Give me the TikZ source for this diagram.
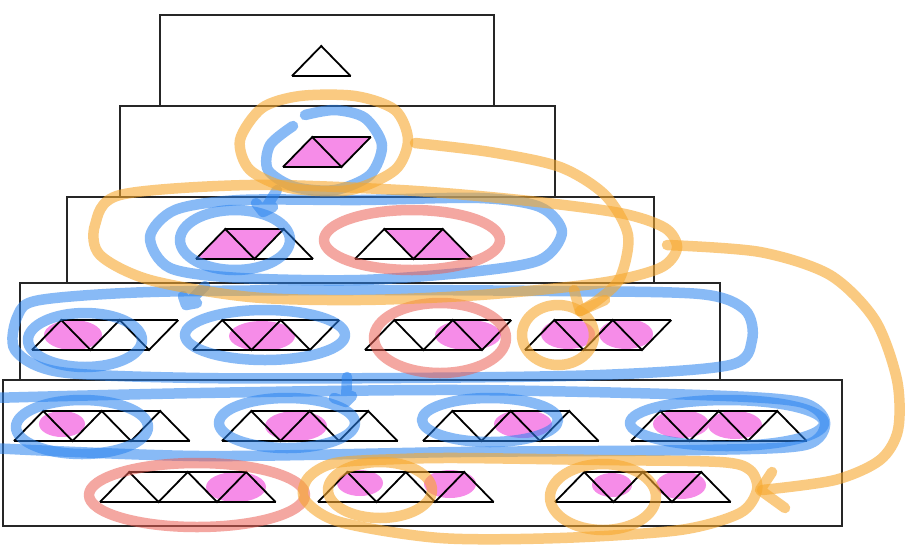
\documentclass[tikz,border=0pt]{standalone}
\usetikzlibrary{arrows.meta}
\definecolor{pinkfill}{RGB}{246,140,232}
\definecolor{hlorange}{RGB}{247,168,45}
\definecolor{hlblue}{RGB}{40,130,240}
\definecolor{hlred}{RGB}{235,95,85}
\tikzset{
  frame/.style={draw=black!85, line width=1.4pt},
  tri/.style={draw=black, line width=1.8pt, line join=miter},
  hl/.style={line width=10.5pt, line cap=round, line join=round},
  hlo/.style={hl, draw=hlorange, draw opacity=0.6},
  hlb/.style={hl, draw=hlblue, draw opacity=0.55},
  hlr/.style={hl, draw=hlred, draw opacity=0.55},
}
% strip of #3 alternating triangles (first pointing up), left base corner (#1,#2)
\newcommand\tstrip[3]{%
  \pgfmathtruncatemacro\tsLast{#3+1}%
  \pgfmathtruncatemacro\tsBot{2*floor((#3+1)/2)}%
  \pgfmathtruncatemacro\tsTop{2*floor(#3/2)+1}%
  \draw[tri] (#1,#2) \foreach \k in {1,...,\tsLast}{ -- ({#1+29.25*\k},{#2-30*mod(\k,2)}) };
  \draw[tri] (#1,#2) -- ({#1+29.25*\tsBot},#2);
  \draw[tri] ({#1+29.25},{#2-30}) -- ({#1+29.25*\tsTop},{#2-30});
}
% pink fill of triangle number #3 of a strip
\newcommand\pinktri[3]{%
  \fill[pinkfill] ({#1+29.25*(#3-1)},{#2-30*mod(#3-1,2)}) -- ({#1+29.25*#3},{#2-30*mod(#3,2)})
     -- ({#1+29.25*(#3+1)},{#2-30*mod(#3+1,2)}) -- cycle;
}
\newcommand\pinkblob[4]{\fill[pinkfill, rounded corners=6pt] (#1,#2) ellipse [x radius=#3, y radius=#4];}
\begin{document}
\begin{tikzpicture}[x=1pt,y=-1pt]
\useasboundingbox (0,0) rectangle (917,552);
\fill[white] (0,0) rectangle (917,552);
% ---------- pink fills ----------
\pinktri{283}{167}{1}\pinktri{283}{167}{2}
\pinktri{196}{259}{1}\pinktri{196}{259}{2}
\pinktri{355}{259}{2}\pinktri{355}{259}{3}
\pinkblob{73}{335}{29}{15}
\pinkblob{262}{336}{33}{15}
\pinkblob{468}{335}{33}{15}
\pinkblob{568}{334}{27}{15}\pinkblob{626}{334}{27}{15}
\pinkblob{62}{424}{23}{13}
\pinkblob{296}{426}{31}{15}
\pinkblob{523}{424}{29}{14}
\pinkblob{681}{424}{28}{14}\pinkblob{735}{425}{27}{14}
\pinkblob{236}{487}{30}{15}
\pinkblob{360}{483}{23}{13}\pinkblob{450}{484}{26}{14}
\pinkblob{612}{485}{20}{12}\pinkblob{681}{485}{25}{14}
% ---------- boxes ----------
\draw[frame] (160,15) rectangle (494,106);
\draw[frame] (120,106) rectangle (555,197);
\draw[frame] (67,197) rectangle (654,283);
\draw[frame] (20,283) rectangle (720,380);
\draw[frame] (3,380) rectangle (842,526);
% ---------- triangle strips ----------
\tstrip{292}{76}{1}
\tstrip{283}{167}{2}
\tstrip{196}{259}{3}
\tstrip{355}{259}{3}
\tstrip{32}{350}{4}
\tstrip{193}{350}{4}
\tstrip{365}{350}{4}
\tstrip{525}{350}{4}
\tstrip{14}{441}{5}
\tstrip{222}{441}{5}
\tstrip{423}{441}{5}
\tstrip{631}{441}{5}
\tstrip{100}{502}{5}
\tstrip{318}{502}{5}
\tstrip{555}{502}{5}
% ---------- blue loops ----------
\draw[hlb] plot[smooth] coordinates {(293,126) (270,145) (268,170) (295,187) (335,190) (370,175) (382,145) (365,118) (335,110) (305,115)};
\draw[hlb] (277,190) -- (263,212) (263,212) -- (256,203) (263,212) -- (273,207);
\draw[hlb] (235,240) ellipse [x radius=55, y radius=30];
\draw[hlb] plot[smooth cycle] coordinates {(150,237) (175,210) (240,200) (360,200) (480,198) (540,207) (562,232) (540,260) (470,272) (360,280) (240,278) (170,268)};
\draw[hlb] (205,286) -- (186,305) (186,305) -- (183,296) (186,305) -- (197,303);
\draw[hlb] plot[smooth cycle] coordinates {(40,300) (150,292) (350,290) (550,291) (700,294) (745,310) (752,340) (730,365) (600,375) (400,378) (200,378) (60,372) (15,350) (18,315)};
\draw[hlb] (85,340) ellipse [x radius=57, y radius=27];
\draw[hlb] (265,335) ellipse [x radius=80, y radius=25];
\draw[hlb] (347,377) -- (346,402) (346,402) -- (334,398) (346,402) -- (352,396);
\draw[hlb] plot[smooth] coordinates {(-10,448) (200,456) (460,452) (700,450) (805,445) (825,422) (800,402) (700,395) (460,390) (200,393) (-10,398)};
\draw[hlb] (82,427) ellipse [x radius=66, y radius=27];
\draw[hlb] (287,423) ellipse [x radius=68, y radius=25];
\draw[hlb] (490,420) ellipse [x radius=68, y radius=22];
\draw[hlb] (727,423) ellipse [x radius=97, y radius=23];
% ---------- red loops ----------
\draw[hlr] (412,240) ellipse [x radius=88, y radius=30];
\draw[hlr] (440,338) ellipse [x radius=66, y radius=35];
\draw[hlr] (197,495) ellipse [x radius=108, y radius=32];
% ---------- orange loops ----------
\draw[hlo] plot[smooth cycle] coordinates {(355,96) (395,110) (408,140) (395,170) (350,190) (290,188) (250,170) (240,140) (262,108) (300,96)};
\draw[hlo] plot[smooth cycle] coordinates {(120,195) (250,185) (400,190) (520,200) (620,213) (665,228) (677,248) (660,268) (600,283) (480,295) (360,300) (250,297) (150,280) (100,255) (95,225)};
\draw[hlo] plot[smooth] coordinates {(415,143) (490,152) (560,167) (605,195) (628,235) (620,278) (598,300) (580,311)};
\draw[hlo] (580,311) -- (574,290) (580,311) -- (605,300);
\draw[hlo] (558,335) ellipse [x radius=36, y radius=30];
\draw[hlo] plot[smooth] coordinates {(667,245) (760,252) (830,275) (875,320) (897,380) (898,430) (880,460) (835,480) (762,490)};
\draw[hlo] (760,490) -- (772,472) (760,490) -- (785,508);
\draw[hlo] plot[smooth cycle] coordinates {(460,458) (600,460) (720,462) (750,470) (757,490) (740,513) (680,530) (560,538) (440,538) (340,522) (305,500) (308,478) (335,463) (400,459)};
\draw[hlo] (380,490) ellipse [x radius=52, y radius=28];
\draw[hlo] (603,497) ellipse [x radius=53, y radius=33];
\end{tikzpicture}
\end{document}
